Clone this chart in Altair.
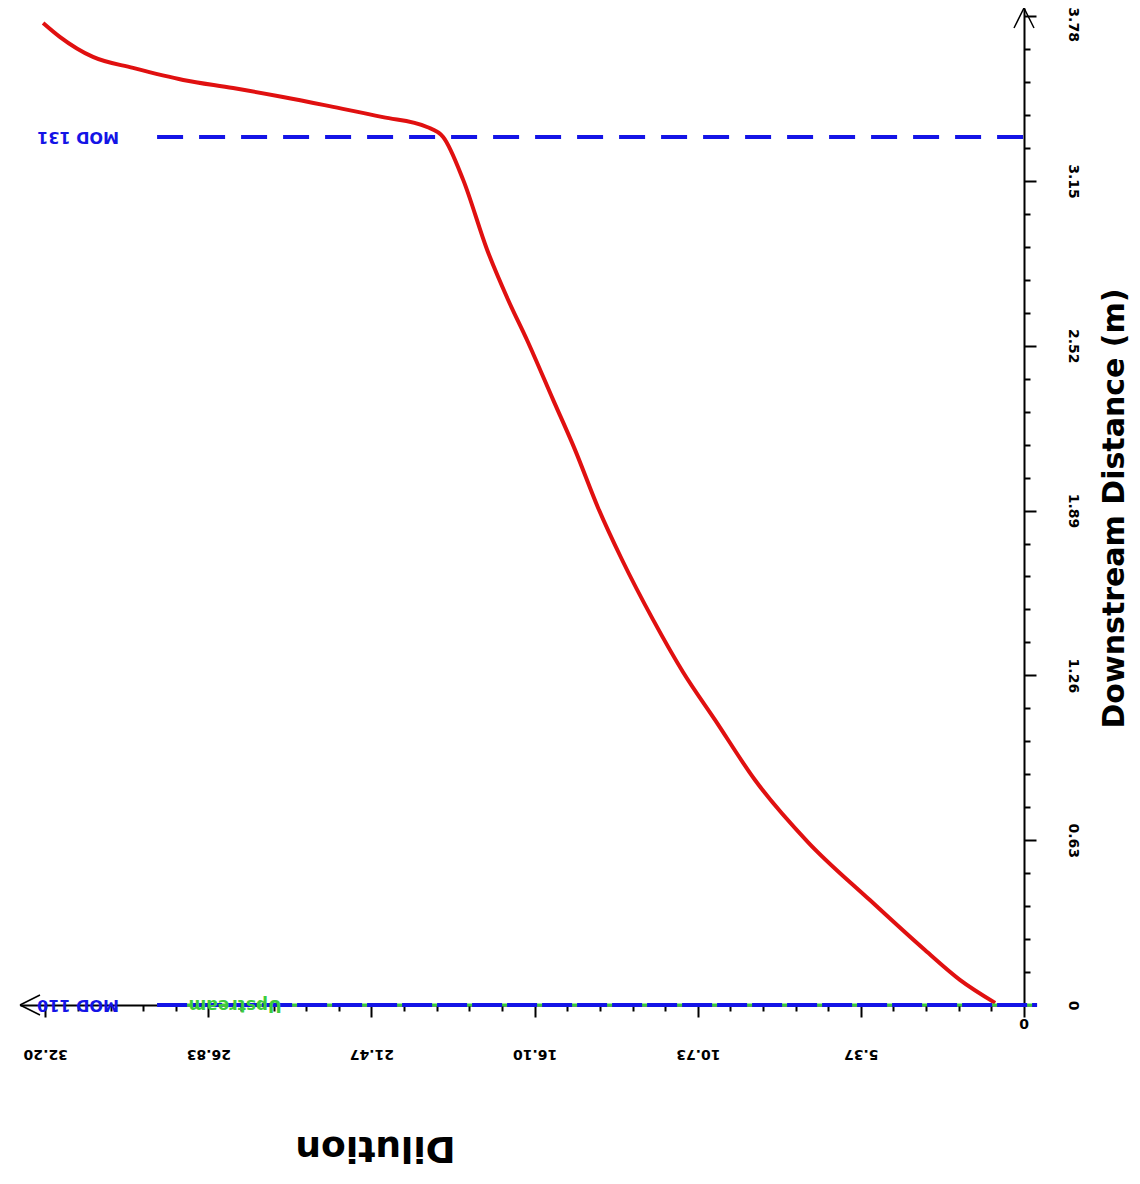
import altair as alt
import pandas as pd
import numpy as np

# ---- data ----
dilution = [32.27, 31.71, 30.63, 29.31, 27.66, 26.02, 24.38, 22.73, 21.09, 19.64,
            19.11, 18.45, 17.66, 16.97, 16.35, 15.49, 14.77, 14.01, 13.22, 12.20,
            11.22, 10.16, 8.85, 7.11, 5.07, 3.26, 2.11, 0.95]
distance = [3.754, 3.700, 3.624, 3.582, 3.536, 3.505, 3.471, 3.433, 3.394, 3.356,
            3.318, 3.154, 2.886, 2.695, 2.542, 2.313, 2.122, 1.900, 1.701, 1.472,
            1.273, 1.089, 0.860, 0.623, 0.401, 0.210, 0.096, 0.008]

x_major = [0, 5.37, 10.73, 16.10, 21.47, 26.83, 32.20]
y_major = [0, 0.63, 1.26, 1.89, 2.52, 3.15, 3.78]

mod_labels = ["MOD 110", "MOD 131"]
mod_distance = [0.0, 3.318]
mod_start = [28.52, 28.52]
mod_end = [-0.43, -0.43]
mod_label_x = [31.12, 31.12]

zone_label = ["Upstream"]
zone_label_x = [25.95]

X_MAX = 33.03
Y_MAX = 3.811

FONT = "DejaVu Sans"
BLUE = "#1414e6"
RED = "#e01010"
GREEN = "#3ccc3c"


def minor(majors, n=5):
    vals = []
    for a, b in zip(majors[:-1], majors[1:]):
        vals.extend(list(np.linspace(a, b, n + 1)[:-1]))
    vals.append(majors[-1])
    return [round(float(v), 4) for v in vals]


x_ticks = minor(x_major)
y_ticks = minor(y_major)

x_test = "indexof([%s], round(datum.value*100)) >= 0" % ",".join(str(int(round(v * 100))) for v in x_major)
y_test = "indexof([%s], round(datum.value*100)) >= 0" % ",".join(str(int(round(v * 100))) for v in y_major)

xscale = alt.Scale(domain=[0, X_MAX], reverse=True, nice=False, zero=False)
yscale = alt.Scale(domain=[0, Y_MAX], nice=False, zero=False)

x_axis = alt.Axis(
    values=x_ticks,
    labelExpr="(%s) && datum.value != 0 ? format(datum.value, '.2f') : ''" % x_test,
    labelAngle=180, labelAlign="center", labelBaseline="middle", labelPadding=36,
    labelFont=FONT, labelFontSize=14, labelFontWeight="bold", labelColor="black",
    labelOverlap=False, labelFlush=False,
    tickSize={"condition": {"test": x_test, "value": 12}, "value": 6},
    tickWidth=2, tickColor="black", domainColor="black", domainWidth=2, grid=False,
    title="Dilution", titleAngle=180, titleFont=FONT, titleFontSize=36,
    titleFontWeight="bold", titleColor="black", titleX=355, titleY=142,
    titleAlign="center", titleBaseline="middle",
)

y_axis = alt.Axis(
    orient="right",
    values=y_ticks,
    labelExpr="(%s) ? (datum.value == 0 ? '0' : format(datum.value, '.2f')) : ''" % y_test,
    labelAngle=90, labelAlign="center", labelBaseline="middle", labelPadding=36,
    labelFont=FONT, labelFontSize=14, labelFontWeight="bold", labelColor="black",
    labelOverlap=False, labelFlush=False,
    labelOffset={"condition": {"test": "datum.value > 3.7", "value": 8}, "value": 0},
    tickSize={"condition": {"test": y_test, "value": 12}, "value": 6},
    tickWidth=2, tickColor="black", domainColor="black", domainWidth=2, grid=False,
    title="Downstream Distance (m)", titleAngle=270, titleFont=FONT, titleFontSize=30,
    titleFontWeight="bold", titleColor="black", titleX=90, titleY=500,
    titleAlign="center", titleBaseline="middle",
)


def X(field):
    return alt.X(field, type="quantitative", scale=xscale, axis=x_axis)


def Y(field):
    return alt.Y(field, type="quantitative", scale=yscale, axis=y_axis)


curve_df = pd.DataFrame({"dil": dilution, "dist": distance, "i": range(len(dilution))})
mod_df = pd.DataFrame({"label": mod_labels, "dist": mod_distance, "x1": mod_start,
                       "x2": mod_end, "lx": mod_label_x})
zone_df = pd.DataFrame({"label": zone_label, "lx": zone_label_x, "dist": [0.0]})

curve = alt.Chart(curve_df).mark_line(color=RED, strokeWidth=4, interpolate="monotone").encode(
    x=X("dil"), y=Y("dist"), order="i:Q",
)

bottom_green = alt.Chart(mod_df.iloc[[0]]).mark_rule(color=GREEN, strokeWidth=3).encode(
    x=X("x1"), x2="x2:Q", y=Y("dist"),
)
bottom_blue = alt.Chart(mod_df.iloc[[0]]).mark_rule(color=BLUE, strokeWidth=4, strokeDash=[30, 5]).encode(
    x=X("x1"), x2="x2:Q", y=Y("dist"),
)
top_blue = alt.Chart(mod_df.iloc[[1]]).mark_rule(color=BLUE, strokeWidth=4, strokeDash=[26, 16]).encode(
    x=X("x1"), x2="x2:Q", y=Y("dist"),
)

mod_text = alt.Chart(mod_df).mark_text(
    color=BLUE, angle=180, font=FONT, fontSize=16, fontWeight="bold",
    align="center", baseline="middle",
).encode(x=X("lx"), y=Y("dist"), text="label:N")

zone_text = alt.Chart(zone_df).mark_text(
    color=GREEN, angle=180, font=FONT, fontSize=17, fontWeight="bold",
    align="center", baseline="middle",
).encode(x=X("lx"), y=Y("dist"), text="label:N")

zero_df = pd.DataFrame({"dil": [0.0], "dist": [0.0], "t": ["0"]})
zero_text = alt.Chart(zero_df).mark_text(
    color="black", font=FONT, fontSize=14, fontWeight="bold", dy=20,
    align="center", baseline="middle",
).encode(x=X("dil"), y=Y("dist"), text="t:N")

arrow_df = pd.DataFrame({"dil": [X_MAX, 0.0], "dist": [0.0, Y_MAX],
                         "shape": ["M0,0L2,-1M0,0L2,1", "M0,0L-1,2M0,0L1,2"]})
arrows = alt.Chart(arrow_df).mark_point(
    filled=False, stroke="black", strokeWidth=1.5, size=400, opacity=1,
).encode(
    x=X("dil"), y=Y("dist"),
    shape=alt.Shape("shape:N", scale=None, legend=None),
)

chart = alt.layer(
    curve, bottom_green, bottom_blue, top_blue, mod_text, zone_text, zero_text, arrows
).properties(
    width=1004, height=997,
    padding={"left": 12, "top": 0, "right": 108, "bottom": 170},
    autosize="none",
    background="white",
).configure_view(stroke=None)

chart.save("out.html", embed_options={"renderer": "svg", "actions": False})
